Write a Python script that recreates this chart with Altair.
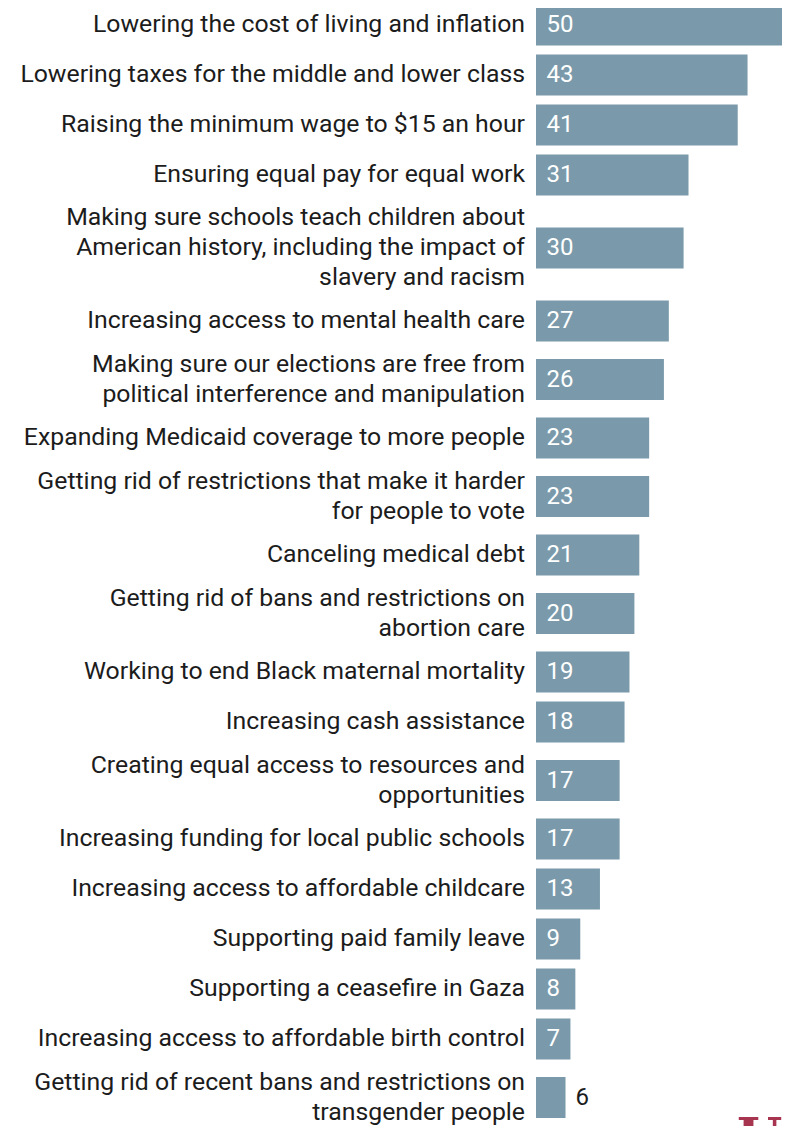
import altair as alt
import pandas as pd

labels = [
    "Lowering the cost of living and inflation",
    "Lowering taxes for the middle and lower class",
    "Raising the minimum wage to $15 an hour",
    "Ensuring equal pay for equal work",
    "Making sure schools teach children about\nAmerican history, including the impact of\nslavery and racism",
    "Increasing access to mental health care",
    "Making sure our elections are free from\npolitical interference and manipulation",
    "Expanding Medicaid coverage to more people",
    "Getting rid of restrictions that make it harder\nfor people to vote",
    "Canceling medical debt",
    "Getting rid of bans and restrictions on\nabortion care",
    "Working to end Black maternal mortality",
    "Increasing cash assistance",
    "Creating equal access to resources and\nopportunities",
    "Increasing funding for local public schools",
    "Increasing access to affordable childcare",
    "Supporting paid family leave",
    "Supporting a ceasefire in Gaza",
    "Increasing access to affordable birth control",
    "Getting rid of recent bans and restrictions on\ntransgender people",
]
values = [50, 43, 41, 31, 30, 27, 26, 23, 23, 21, 20, 19, 18, 17, 17, 13, 9, 8, 7, 6]

logo_text = ["UN"]

# layout: row height depends on number of label lines
LINE_H = 30
BAR_H = 41
centers, text_y = [], []
pos = 0
for lab in labels:
    n = lab.count("\n") + 1
    h = 50 if n == 1 else 29 * n + 9
    c = pos + h / 2
    centers.append(c)
    text_y.append(c - (n - 1) * LINE_H / 2)
    pos += h

df = pd.DataFrame({"label": labels, "value": values, "center": centers, "ty": text_y})
df["y0"] = df["center"] - BAR_H / 2
df["y1"] = df["center"] + BAR_H / 2
df["zero"] = 0

W = 246
H = 1118
FONT = "Roboto"

yscale = alt.Scale(domain=[8, 8 + H], reverse=True, nice=False, zero=False)
xscale = alt.Scale(domain=[0, 50], nice=False)

base = alt.Chart(df)

bars = base.mark_rect(color="#7a9aab").encode(
    x=alt.X("zero:Q", scale=xscale, axis=None),
    x2="value:Q",
    y=alt.Y("y0:Q", scale=yscale, axis=None),
    y2="y1:Q",
)

cat_text = base.mark_text(
    align="right", baseline="middle", font=FONT, fontSize=24.8, color="#1c1c1c",
    lineBreak="\n", lineHeight=LINE_H,
).encode(
    x=alt.value(-11),
    y=alt.Y("ty:Q", scale=yscale, axis=None),
    text="label:N",
)

val_in = base.transform_filter("datum.value >= 7").mark_text(
    align="left", baseline="middle", font=FONT, fontSize=24, color="white",
).encode(
    x=alt.value(10.5),
    y=alt.Y("center:Q", scale=yscale, axis=None),
    text="value:Q",
)

val_out = base.transform_filter("datum.value < 7").mark_text(
    align="left", baseline="middle", font=FONT, fontSize=24, color="#1c1c1c", dx=10,
).encode(
    x=alt.X("value:Q", scale=xscale, axis=None),
    y=alt.Y("center:Q", scale=yscale, axis=None),
    text="value:Q",
)

logo = alt.Chart(pd.DataFrame({"t": logo_text})).mark_text(
    align="left", baseline="top", font="DejaVu Serif", fontSize=52, fontWeight="bold",
    color="#a8354f",
).encode(
    x=alt.value(201),
    y=alt.value(1106),
    text="t:N",
)

chart = alt.layer(bars, cat_text, val_in, val_out, logo).properties(
    width=W, height=H,
    padding={"left": 528, "top": 0, "right": 0, "bottom": 0},
    autosize=alt.AutoSizeParams(type="none"),
).configure_view(stroke=None)

chart.save("out.html", embed_options={"renderer": "svg", "actions": False})
